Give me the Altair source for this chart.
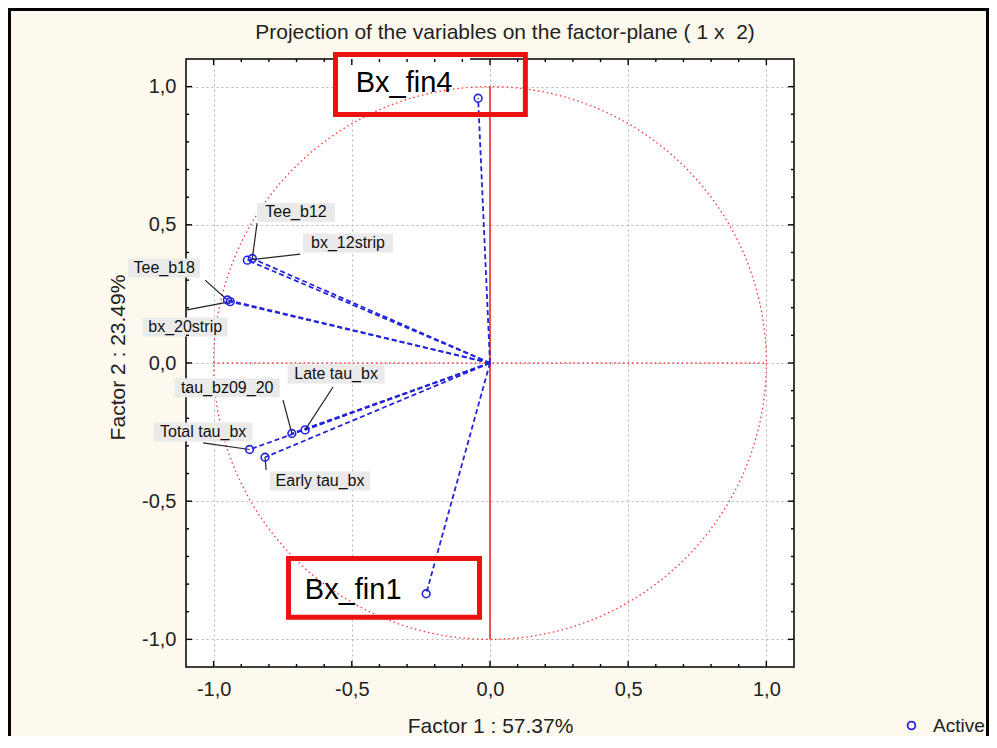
import math
import altair as alt
import pandas as pd

FONT = "Liberation Sans, Arial, Helvetica, sans-serif"
BLUE = "#2424DC"
RED = "#FF3333"
BOX_RED = "#EE1111"

# ---------------- data ----------------
var_names = ["Bx_fin4", "Bx_fin1", "Tee_b12", "bx_12strip", "Tee_b18", "bx_20strip",
             "tau_bz09_20", "Late tau_bx", "Total tau_bx", "Early tau_bx"]
factor1 = [-0.043, -0.231, -0.860, -0.878, -0.950, -0.940, -0.717, -0.669, -0.870, -0.814]
factor2 = [0.958, -0.835, 0.378, 0.372, 0.228, 0.222, -0.255, -0.242, -0.313, -0.341]

# grey label annotations
label_names = ["Tee_b12", "bx_12strip", "Tee_b18", "bx_20strip",
               "tau_bz09_20", "Late tau_bx", "Total tau_bx", "Early tau_bx"]
label_x = [-0.702, -0.514, -1.179, -1.103, -0.951, -0.557, -1.038, -0.615]
label_y = [0.545, 0.434, 0.344, 0.130, -0.090, -0.040, -0.250, -0.427]
label_w_px = [78, 90, 72, 85, 105, 97, 99, 100]
leader_x = [-0.843, -0.687, -1.031, -1.096, -0.749, -0.568, -1.038, -0.810]
leader_y = [0.506, 0.394, 0.300, 0.192, -0.134, -0.087, -0.289, -0.387]

# highlighted (red box) annotations
box_names = ["Bx_fin4", "Bx_fin1"]
box_x = [-0.559, -0.729]
box_x2 = [0.128, -0.038]
box_y = [1.116, -0.707]
box_y2 = [0.899, -0.920]
box_fill_x2 = [-0.072, -0.282]
box_text_x = [-0.311, -0.495]
box_text_y = [1.013, -0.821]

tick_values = [-1.0, -0.5, 0.0, 0.5, 1.0]
tick_labels = ["-1,0", "-0,5", "0,0", "0,5", "1,0"]
minor_ticks = [-0.9, -0.8, -0.7, -0.6, -0.4, -0.3, -0.2, -0.1,
               0.1, 0.2, 0.3, 0.4, 0.6, 0.7, 0.8, 0.9]

title_text = "Projection of the variables on the factor-plane ( 1 x \u00a02)"
x_title = "Factor 1 : 57.37%"
y_title = "Factor 2 : 23.49%"
legend_label = "Active"

# ---------------- layout ----------------
W = H = 608
UNIT = W / 2.2
PAD_L, PAD_T, PAD_R, PAD_B = 178, 51, 195, 69

label_expr = ("[" + ",".join(f"'{l}'" for l in tick_labels) + "][indexof(["
              + ",".join(f"{v:g}" for v in tick_values) + "], datum.value)]")

X_SCALE = alt.Scale(domain=[-1.1, 1.1], nice=False, zero=False)
Y_SCALE = alt.Scale(domain=[-1.1, 1.1], nice=False, zero=False)
X_AXIS = alt.Axis(values=tick_values, labelExpr=label_expr, title=x_title, grid=True,
                  ticks=False, domain=False, labelPadding=12,
                  titleX=W / 2, titleY=59, titleBaseline="middle", titleAlign="center")
Y_AXIS = alt.Axis(values=tick_values, labelExpr=label_expr, title=y_title, grid=True,
                  ticks=False, domain=False, labelPadding=10,
                  titleX=-68, titleY=298, titleAngle=270, titleBaseline="middle",
                  titleAlign="center")


def xq(f):
    return alt.X(f, type="quantitative", scale=X_SCALE, axis=X_AXIS)


def yq(f):
    return alt.Y(f, type="quantitative", scale=Y_SCALE, axis=Y_AXIS)


# data frames
pts = pd.DataFrame({"name": var_names, "x": factor1, "y": factor2, "legend": legend_label})

vec_rows = []
for n, a, b in zip(var_names, factor1, factor2):
    vec_rows.append({"name": n, "x": 0.0, "y": 0.0, "ord": 0})
    vec_rows.append({"name": n, "x": a, "y": b, "ord": 1})
vec = pd.DataFrame(vec_rows)

pt_lookup = dict(zip(var_names, zip(factor1, factor2)))
lead_rows = []
for n, lx, ly in zip(label_names, leader_x, leader_y):
    px, py = pt_lookup[n]
    lead_rows.append({"name": n, "x": lx, "y": ly, "ord": 0})
    lead_rows.append({"name": n, "x": px, "y": py, "ord": 1})
leads = pd.DataFrame(lead_rows)

half_h = 9.5 / UNIT
labels = pd.DataFrame({
    "name": label_names,
    "lx": label_x,
    "ly": label_y,
    "x": [cx - w / 2 / UNIT for cx, w in zip(label_x, label_w_px)],
    "x2": [cx + w / 2 / UNIT for cx, w in zip(label_x, label_w_px)],
    "y": [cy + half_h for cy in label_y],
    "y2": [cy - half_h for cy in label_y],
})

boxes = pd.DataFrame({"name": box_names, "x": box_x, "x2": box_x2, "fx2": box_fill_x2,
                      "y": box_y, "y2": box_y2, "tx": box_text_x, "ty": box_text_y})

circle_df = pd.DataFrame({"x": [0.0], "y": [0.0]})
hline_df = pd.DataFrame({"x": [-1.0], "x2": [1.0], "y": [0.0]})
vline_df = pd.DataFrame({"x": [0.0], "y": [-1.0], "y2": [1.0]})
major_df = pd.DataFrame({"v": tick_values})
minor_df = pd.DataFrame({"v": minor_ticks})
one = pd.DataFrame({"a": [0]})
title_df = pd.DataFrame({"t": [title_text]})

# ---------------- layers ----------------
box_fill = alt.Chart(boxes).mark_rect(color="white").encode(
    x=xq("x"), x2="fx2", y=yq("y"), y2="y2")

# unit circle: Vega circle symbol radius = sqrt(size) / 2
circle = alt.Chart(circle_df).mark_point(
    shape="circle", size=(2 * UNIT) ** 2, filled=False, color=RED,
    strokeWidth=1.3, strokeDash=[1.5, 3], opacity=1).encode(x=xq("x"), y=yq("y"))

hline = alt.Chart(hline_df).mark_rule(color=RED, strokeWidth=1.3, strokeDash=[1.5, 3]).encode(
    x=xq("x"), x2="x2", y=yq("y"))
vline = alt.Chart(vline_df).mark_rule(color="#E82020", strokeWidth=1.5).encode(
    x=xq("x"), y=yq("y"), y2="y2")

vectors = alt.Chart(vec).mark_line(color=BLUE, strokeWidth=1.8, strokeDash=[5, 3]).encode(
    x=xq("x"), y=yq("y"), detail="name:N", order="ord:Q")

leaders = alt.Chart(leads).mark_line(color="#222222", strokeWidth=1.2).encode(
    x=xq("x"), y=yq("y"), detail="name:N", order="ord:Q")

label_bg = alt.Chart(labels).mark_rect(color="#EAEAEA").encode(
    x=xq("x"), x2="x2", y=yq("y"), y2="y2")
label_txt = alt.Chart(labels).mark_text(
    font=FONT, fontSize=16, color="#111111", align="center", baseline="middle").encode(
    x=xq("lx"), y=yq("ly"), text="name:N")

points = alt.Chart(pts).mark_point(
    shape="circle", filled=False, size=60, strokeWidth=1.6, opacity=1).encode(
    x=xq("x"), y=yq("y"),
    color=alt.Color("legend:N", scale=alt.Scale(domain=[legend_label], range=[BLUE]),
                    legend=alt.Legend(title=None, orient="none", legendX=716, legendY=657,
                                      labelFont=FONT, labelFontSize=19, labelColor="#222222",
                                      labelOffset=12, symbolSize=60, symbolStrokeWidth=1.8,
                                      symbolType="circle", padding=0)))

box_outline = alt.Chart(boxes).mark_rect(
    fill="white", fillOpacity=0, stroke=BOX_RED, strokeWidth=5).encode(
    x=xq("x"), x2="x2", y=yq("y"), y2="y2")
box_txt = alt.Chart(boxes).mark_text(
    font=FONT, fontSize=29, color="black", align="center", baseline="middle").encode(
    x=xq("tx"), y=yq("ty"), text="name:N")

title_mark = alt.Chart(title_df).mark_text(
    font=FONT, fontSize=21, color="#222222", align="center", baseline="middle").encode(
    x=alt.value(W / 2 + 15), y=alt.value(-26), text="t:N")

tick_layers = []
for df, ln in ((major_df, 6), (minor_df, 3)):
    tick_layers += [
        alt.Chart(df).mark_rule(color="black", strokeWidth=1.4).encode(
            x=xq("v"), y=alt.value(H), y2=alt.value(H - ln)),
        alt.Chart(df).mark_rule(color="black", strokeWidth=1.4).encode(
            x=xq("v"), y=alt.value(0), y2=alt.value(ln)),
        alt.Chart(df).mark_rule(color="black", strokeWidth=1.4).encode(
            y=yq("v"), x=alt.value(0), x2=alt.value(ln)),
        alt.Chart(df).mark_rule(color="black", strokeWidth=1.4).encode(
            y=yq("v"), x=alt.value(W), x2=alt.value(W - ln)),
    ]

border = [
    alt.Chart(one).mark_rule(color="black", strokeWidth=3).encode(
        x=alt.value(-PAD_L + 1.5), y=alt.value(-PAD_T), y2=alt.value(H + PAD_B)),
    alt.Chart(one).mark_rule(color="black", strokeWidth=3).encode(
        x=alt.value(-PAD_L), x2=alt.value(W + PAD_R), y=alt.value(-PAD_T + 1.5)),
    alt.Chart(one).mark_rule(color="black", strokeWidth=3).encode(
        x=alt.value(W + PAD_R - 1.5), y=alt.value(-PAD_T), y2=alt.value(H + PAD_B)),
]

chart = alt.layer(
    box_fill, circle, hline, vline, vectors, leaders, label_bg, label_txt, points,
    box_outline, box_txt, title_mark, *tick_layers, *border
).properties(
    width=W, height=H,
    autosize=alt.AutoSizeParams(type="none"),
    padding={"left": PAD_L, "top": PAD_T, "right": PAD_R, "bottom": PAD_B},
).configure(
    background="#FDF9EE"
).configure_view(
    fill="white", stroke="black", strokeWidth=1.5
).configure_axis(
    gridColor="#B5B5B5", gridDash=[2, 3], gridWidth=1,
    labelFont=FONT, titleFont=FONT, labelFontSize=20, titleFontSize=21,
    labelColor="#222222", titleColor="#222222", titleFontWeight="normal"
)

chart.save("out.html", embed_options={"renderer": "svg", "actions": False})
